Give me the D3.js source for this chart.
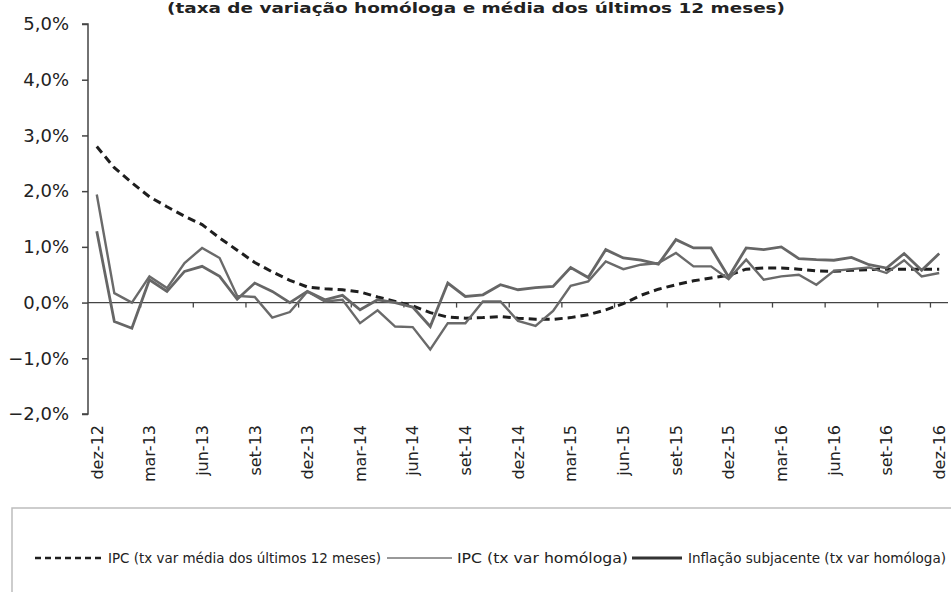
<!DOCTYPE html>
<html><head><meta charset="utf-8">
<script src="https://cdn.jsdelivr.net/npm/d3@7"></script>
<style>
html,body{margin:0;padding:0;background:#fff;}
svg{display:block;}
</style></head>
<body>
<svg id="chart" width="951" height="592"></svg>
<script>
const categories = ["dez-12","jan-13","fev-13","mar-13","abr-13","mai-13","jun-13","jul-13","ago-13","set-13","out-13","nov-13",
  "dez-13","jan-14","fev-14","mar-14","abr-14","mai-14","jun-14","jul-14","ago-14","set-14","out-14","nov-14",
  "dez-14","jan-15","fev-15","mar-15","abr-15","mai-15","jun-15","jul-15","ago-15","set-15","out-15","nov-15",
  "dez-15","jan-16","fev-16","mar-16","abr-16","mai-16","jun-16","jul-16","ago-16","set-16","out-16","nov-16","dez-16"];

const ipcMedia12 = [2.80,2.42,2.15,1.90,1.72,1.55,1.40,1.16,0.94,0.72,0.55,0.40,
  0.28,0.25,0.23,0.19,0.10,0.02,-0.06,-0.18,-0.26,-0.28,-0.27,-0.25,
  -0.28,-0.30,-0.30,-0.27,-0.22,-0.13,-0.02,0.13,0.24,0.32,0.39,0.44,
  0.49,0.60,0.62,0.62,0.60,0.57,0.56,0.58,0.59,0.60,0.60,0.60,0.60];

const ipcHomologa = [1.94,0.17,0.00,0.47,0.26,0.71,0.98,0.80,0.12,0.10,-0.27,-0.17,
  0.20,0.02,0.05,-0.37,-0.14,-0.43,-0.44,-0.84,-0.37,-0.37,0.02,0.02,
  -0.33,-0.42,-0.15,0.30,0.38,0.74,0.60,0.68,0.71,0.89,0.65,0.65,
  0.42,0.77,0.41,0.47,0.50,0.32,0.57,0.60,0.63,0.53,0.76,0.47,0.53];

const inflacaoSubjacente = [1.28,-0.34,-0.46,0.41,0.20,0.56,0.65,0.47,0.06,0.35,0.20,0.00,
  0.20,0.05,0.13,-0.13,0.05,0.00,-0.08,-0.43,0.35,0.11,0.14,0.32,
  0.23,0.27,0.29,0.63,0.45,0.95,0.80,0.76,0.69,1.13,0.98,0.98,
  0.46,0.98,0.95,1.00,0.79,0.77,0.76,0.81,0.68,0.62,0.88,0.58,0.88];

const yTicks = [-2,-1,0,1,2,3,4,5];
const xTickLabels = ["dez-12","mar-13","jun-13","set-13","dez-13","mar-14","jun-14","set-14","dez-14","mar-15","jun-15","set-15","dez-15","mar-16","jun-16","set-16","dez-16"];

const titleText = "(taxa de variação homóloga e média dos últimos 12 meses)";
const legendLabels = ["IPC (tx var média dos últimos 12 meses)","IPC (tx var homóloga)","Inflação subjacente (tx var homóloga)"];

const svg = d3.select("#chart");
const x = d3.scaleBand().domain(categories).range([88, 948]).padding(0);
const xc = d => x(d) + x.bandwidth()/2;
const y = d3.scaleLinear().domain([-2, 5]).range([414, 24]);
const fmt = v => d3.format(".1f")(v).replace(".", ",") + "%";

// title
svg.append("text").attr("x", 476).attr("y", 13).attr("text-anchor","middle")
  .attr("font-family","DejaVu Sans").attr("font-weight","bold").attr("font-size",14)
  .attr("textLength",618).attr("lengthAdjust","spacingAndGlyphs").attr("fill","#222")
  .text(titleText);

// y axis
const yAxis = d3.axisLeft(y).tickValues(yTicks).tickSize(6).tickPadding(13).tickFormat(fmt);
const gy = svg.append("g").attr("transform","translate(88,0)").call(yAxis);
gy.select(".domain").attr("stroke","#444").attr("stroke-width",1.5).attr("d","M-6,414H0V24H-6");
gy.selectAll(".tick line").attr("stroke","#444").attr("stroke-width",1.5);
gy.selectAll(".tick text").attr("font-family","DejaVu Sans").attr("font-size",18).attr("fill","#222");

// zero line with ticks
const gx = svg.append("g").attr("transform",`translate(0,${y(0)})`);
gx.append("line").attr("x1",88).attr("x2",948).attr("stroke","#444").attr("stroke-width",1.3);
categories.forEach((c,i)=>{ if(i>0 && i%3===0){ gx.append("line").attr("x1",x(c)).attr("x2",x(c)).attr("y1",0).attr("y2",5).attr("stroke","#444").attr("stroke-width",1.3);} });

// x labels
svg.append("g").selectAll("text").data(xTickLabels).join("text")
  .attr("transform", d => `translate(${xc(d)},425) rotate(-90)`)
  .attr("text-anchor","end").attr("dy","0.36em")
  .attr("font-family","DejaVu Sans").attr("font-size",16).attr("fill","#222")
  .text(d=>d);

// lines
const line = arr => d3.line().x((d,i)=>xc(categories[i])).y(d=>y(d))(arr);
svg.append("path").attr("d", line(ipcMedia12)).attr("fill","none").attr("stroke","#1e1e1e").attr("stroke-width",3).attr("stroke-dasharray","8,5");
svg.append("path").attr("d", line(inflacaoSubjacente)).attr("fill","none").attr("stroke","#666").attr("stroke-width",2.8).attr("stroke-linejoin","miter");
svg.append("path").attr("d", line(ipcHomologa)).attr("fill","none").attr("stroke","#6a6a6a").attr("stroke-width",2.4).attr("stroke-linejoin","miter");

// legend box
svg.append("path").attr("d","M12,600V508H960").attr("fill","none").attr("stroke","#bdbdbd").attr("stroke-width",1.5);
const lg = svg.append("g");
const ly = 558;
lg.append("line").attr("x1",35).attr("x2",102).attr("y1",ly).attr("y2",ly).attr("stroke","#1e1e1e").attr("stroke-width",2.5).attr("stroke-dasharray","6,4");
lg.append("line").attr("x1",387).attr("x2",452).attr("y1",ly).attr("y2",ly).attr("stroke","#333").attr("stroke-width",1);
lg.append("line").attr("x1",632).attr("x2",682).attr("y1",ly).attr("y2",ly).attr("stroke","#333").attr("stroke-width",3);
const lpos = [[108,273],[457,171],[688,258]];
legendLabels.forEach((t,i)=>{
  lg.append("text").attr("x",lpos[i][0]).attr("y",ly+5).attr("font-family","Liberation Sans Narrow, DejaVu Sans Condensed, sans-serif")
    .attr("font-size",14).attr("textLength",lpos[i][1]).attr("lengthAdjust","spacingAndGlyphs").attr("fill","#222").text(t);
});
</script>
</body></html>
